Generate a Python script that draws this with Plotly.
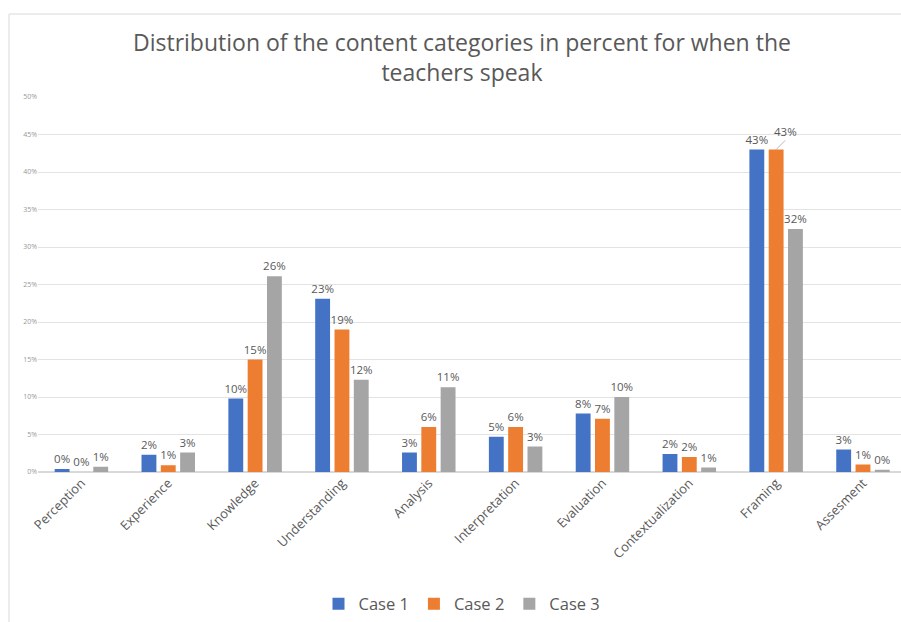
import plotly.graph_objects as go

categories = ["Perception", "Experience", "Knowledge", "Understanding", "Analysis",
              "Interpretation", "Evaluation", "Contextualization", "Framing", "Assesment"]
case1 = [0.004, 0.023, 0.098, 0.231, 0.026, 0.047, 0.078, 0.024, 0.430, 0.030]
case2 = [0.000, 0.009, 0.150, 0.190, 0.060, 0.060, 0.071, 0.020, 0.430, 0.010]
case3 = [0.007, 0.026, 0.261, 0.123, 0.113, 0.034, 0.100, 0.006, 0.324, 0.003]
series_names = ["Case 1", "Case 2", "Case 3"]
colors = ["#4472C4", "#ED7D31", "#A5A5A5"]
y_ticks = [0, 0.05, 0.10, 0.15, 0.20, 0.25, 0.30, 0.35, 0.40, 0.45, 0.50]
title_text = "Distribution of the content categories in percent for when the<br>teachers speak"

W, H = 901, 622
ML, MR, MT, MB = 38, 0, 97, 150
pw, ph = W - ML - MR, H - MT - MB

fig = go.Figure()
for name, vals, col in zip(series_names, [case1, case2, case3], colors):
    texts = [f"{v:.0%}" for v in vals]
    if name == "Case 2":
        texts[categories.index("Framing")] = ""
    fig.add_trace(go.Bar(
        name=name, x=categories, y=vals, marker=dict(color=col, line=dict(width=0)),
        text=texts, textposition="outside", cliponaxis=False,
        constraintext="none",
        textfont=dict(family="Open Sans", size=11.5, color="#595959"),
    ))

# leader-line label for Case 2 Framing
fi = categories.index("Framing")
fig.add_annotation(x=fi, y=case2[fi], xref="x", yref="y",
                   text=f"{case2[fi]:.0%}", showarrow=True, arrowhead=0,
                   arrowwidth=0.8, arrowcolor="#A6A6A6", standoff=0,
                   ax=9, ay=-9, axref="pixel", ayref="pixel",
                   font=dict(family="Open Sans", size=11.5, color="#595959"),
                   xanchor="center", yanchor="bottom")

# title
fig.add_annotation(text=title_text, xref="paper", yref="paper",
                   x=(462 - ML) / pw, y=1 + (MT - 57) / ph, xanchor="center", yanchor="middle",
                   showarrow=False, align="center",
                   font=dict(family="Open Sans", size=23, color="#595959"))

# chart-area border (left and top visible in crop)
bx = (9 - ML) / pw
by = 1 + (MT - 14) / ph
fig.add_shape(type="line", xref="paper", yref="paper", x0=bx, x1=1.2, y0=by, y1=by,
              line=dict(color="#D9D9D9", width=1))
fig.add_shape(type="line", xref="paper", yref="paper", x0=bx, x1=bx, y0=by, y1=-1,
              line=dict(color="#D9D9D9", width=1))

fig.update_layout(
    width=W, height=H,
    margin=dict(l=ML, r=MR, t=MT, b=MB),
    paper_bgcolor="white", plot_bgcolor="white",
    barmode="group", bargap=0.333, bargroupgap=0.23,
    legend=dict(orientation="h", x=(462 - ML) / pw, xanchor="center", y=-(604 - 472) / ph,
                yanchor="middle", font=dict(family="Open Sans", size=16.5, color="#595959"),
                traceorder="normal", itemwidth=30),
    xaxis=dict(tickangle=-45, range=[-0.5, -0.5 + (W - 37.4) / 86.9],
               tickfont=dict(family="Open Sans", size=13, color="#595959"),
               showline=False, ticks=""),
    yaxis=dict(range=[0, 0.5], tickvals=y_ticks, tickformat=".0%",
               tickfont=dict(family="Open Sans", size=7, color="#999999"),
               gridcolor="#E3E3E3", gridwidth=1, zeroline=True, zerolinecolor="#D9D9D9",
               showline=False, ticks=""),
)

fig.write_html("out.html")
